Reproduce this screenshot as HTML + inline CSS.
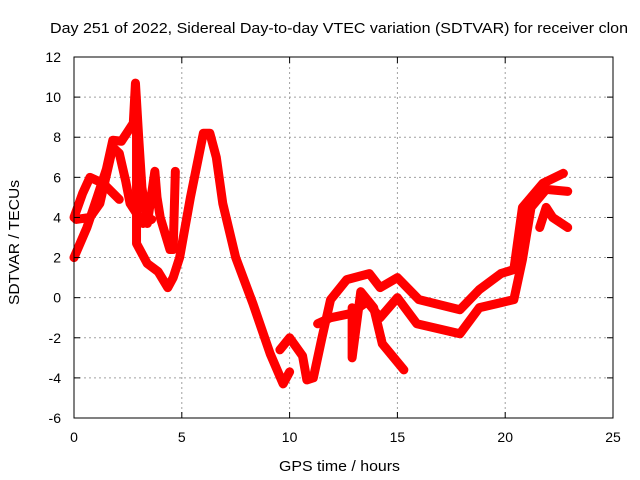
<!DOCTYPE html>
<html><head><meta charset="utf-8"><style>
body{margin:0;background:#fff}
svg{display:block;font-family:"Liberation Sans",sans-serif}
</style></head><body>
<svg id="chart" width="640" height="480">
<rect width="640" height="480" fill="#fff"/>
<text x="50" y="33" font-size="15" textLength="578" lengthAdjust="spacingAndGlyphs">Day 251 of 2022, Sidereal Day-to-day VTEC variation (SDTVAR) for receiver clon</text>
<g id="grid"></g><g id="series"></g><g id="axes"></g>
<text x="279" y="471" font-size="15" textLength="121" lengthAdjust="spacingAndGlyphs">GPS time / hours</text>
<text transform="translate(19,305) rotate(-90)" font-size="15" textLength="125" lengthAdjust="spacingAndGlyphs">SDTVAR / TECUs</text>
</svg>
<script>
const xTicks=[0,5,10,15,20,25];
const yTicks=[-6,-4,-2,0,2,4,6,8,10,12];
const trackMain=[[2.9,8.6],[2.9,2.7],[3.4,1.7],[3.9,1.3],[4.35,0.5],[4.6,1.0],[4.9,2],[5.4,5],[6.0,8.2],[6.3,8.2],[6.6,7],[6.9,4.7],[7.5,2],[8.3,-0.3],[9.1,-2.8],[9.7,-4.3],[10,-3.7]];
const trackPeak=[[0,2],[0.6,3.5],[1.07,5],[1.5,6.4],[1.8,7.85],[2.2,7.8],[2.75,8.7],[2.85,10.7],[3.0,8],[3.15,5.5],[3.4,3.7],[3.75,6.3],[3.85,5],[4.0,4.0],[4.45,2.4],[4.6,2.4],[4.7,6.3]];
const trackUpper=[[0,4.0],[0.4,5.2],[0.74,6.0],[1.35,5.7],[2.1,4.9]];
const trackLow=[[0.1,3.9],[0.74,4.0],[1.2,4.7],[1.8,7.5],[2.1,7.2],[2.4,5.8],[2.6,4.7],[3.2,3.7],[3.6,3.9]];
const trackB=[[9.55,-2.6],[10,-2.0],[10.6,-2.9],[10.8,-4.1],[11.1,-4],[11.5,-2],[11.9,-0.1],[12.65,0.9],[13.7,1.2],[14.2,0.5],[15,1.0],[16,-0.1],[17.9,-0.6],[18.8,0.4],[19.8,1.2],[20.4,1.4],[20.8,4.5],[21.75,5.7],[22.7,6.2]];
const trackC=[[11.3,-1.3],[11.9,-1],[12.8,-0.8],[13.6,-0.2],[14.2,-1.0],[15,0],[15.9,-1.3],[17.9,-1.8],[18.8,-0.5],[19.6,-0.3],[20.4,-0.1],[20.8,1.9],[21.2,4.5],[21.9,5.4],[22.9,5.3]];
const trackD=[[12.9,-0.5],[12.9,-3.0],[13.3,0.3],[13.9,-0.5],[14.3,-2.3],[15.3,-3.6]];
const trackE=[[21.6,3.5],[21.9,4.5],[22.2,4.0],[22.9,3.5]];
const tracks=[trackMain,trackPeak,trackUpper,trackLow,trackB,trackC,trackD,trackE];
const X0=74,X1=613,Y0=418,Y1=57,xMin=0,xMax=25,yMin=-6,yMax=12;
const sx=v=>X0+(v-xMin)/(xMax-xMin)*(X1-X0);
const sy=v=>Y0-(v-yMin)/(yMax-yMin)*(Y0-Y1);
const NS='http://www.w3.org/2000/svg';
const grid=document.getElementById('grid'),axes=document.getElementById('axes'),ser=document.getElementById('series');
function mk(tag,attrs,parent){const e=document.createElementNS(NS,tag);for(const k in attrs)e.setAttribute(k,attrs[k]);parent.appendChild(e);return e;}
xTicks.forEach(t=>{
 if(t>xMin&&t<xMax){const g=mk('line',{x1:sx(t),x2:sx(t),y1:Y1,y2:Y0,stroke:'#a0a0a0','stroke-dasharray':'2,3'},grid);
 
 }
 const l=mk('text',{x:sx(t),y:Y0+24,'font-size':14,'text-anchor':'middle'},axes);l.textContent=t;
 
 
 mk('line',{x1:sx(t),x2:sx(t),y1:Y0,y2:Y0-6,stroke:'#000'},axes);
 mk('line',{x1:sx(t),x2:sx(t),y1:Y1,y2:Y1+6,stroke:'#000'},axes);
});
yTicks.forEach(t=>{
 if(t>yMin&&t<yMax){const g=mk('line',{x1:X0,x2:X1,y1:sy(t),y2:sy(t),stroke:'#a0a0a0','stroke-dasharray':'2,3'},grid);
 
 }
 const l=mk('text',{x:X0-13,y:sy(t)+5,'font-size':14,'text-anchor':'end'},axes);l.textContent=t;
 
 
 mk('line',{x1:X0,x2:X0+6,y1:sy(t),y2:sy(t),stroke:'#000'},axes);
 mk('line',{x1:X1,x2:X1-6,y1:sy(t),y2:sy(t),stroke:'#000'},axes);
});
const fr=mk('rect',{x:X0,y:Y1,width:X1-X0,height:Y0-Y1,fill:'none',stroke:'#000'},axes);


tracks.forEach(tr=>{
 const p=mk('polyline',{points:tr.map(d=>sx(d[0])+','+sy(d[1])).join(' '),fill:'none',stroke:'#ff0000','stroke-width':9,'stroke-linejoin':'round','stroke-linecap':'round'},ser);
 
 
});
</script>
</body></html>
